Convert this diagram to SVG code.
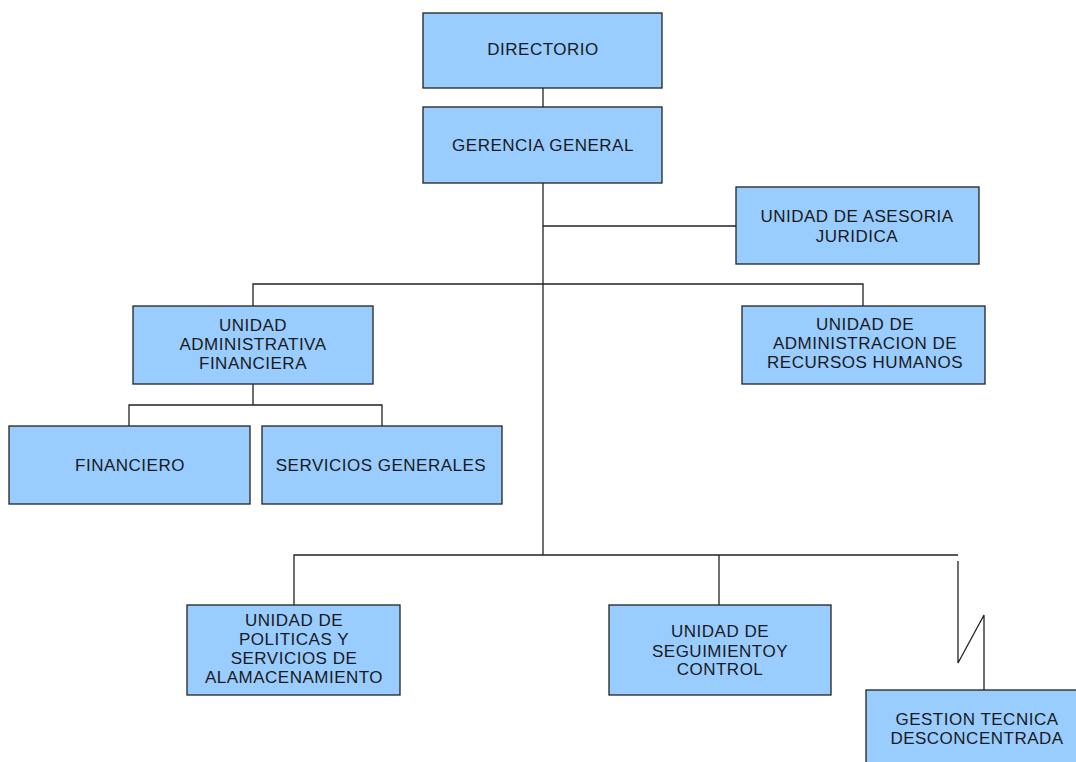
<svg xmlns="http://www.w3.org/2000/svg" width="1076" height="762" viewBox="0 0 1076 762">
<style>
.box{fill:#99ccff;stroke:#222;stroke-width:1.3}
.t{font-family:"Liberation Sans",Arial,sans-serif;font-size:17px;letter-spacing:0.5px;fill:#1a1a1a;text-anchor:middle}
.c{fill:none;stroke:#222;stroke-width:1.3}
</style>
<rect width="1076" height="762" fill="#fff"/>
<g id="connectors">
<path class="c" d="M543 88V107"/>
<path class="c" d="M543 183V555"/>
<path class="c" d="M543 226H736"/>
<path class="c" d="M253 306V284H863V306"/>
<path class="c" d="M253 384V405M129 426V405H382V426"/>
<path class="c" d="M294 605V555H958"/>
<path class="c" d="M719 555V605"/>
<path class="c" d="M958 561V663L984 615V690"/>
</g>
<g id="directorio"><rect class="box" x="423" y="13" width="239" height="75"/><text class="t" x="543" y="55">DIRECTORIO</text></g>
<g id="gerencia"><rect class="box" x="423" y="107" width="239" height="76"/><text class="t" x="543" y="151">GERENCIA GENERAL</text></g>
<g id="juridica"><rect class="box" x="736" y="187" width="243" height="77"/><text class="t" x="857" y="222">UNIDAD DE ASESORIA</text><text class="t" x="857" y="242">JURIDICA</text></g>
<g id="uaf"><rect class="box" x="133" y="306" width="240" height="78"/><text class="t" x="253" y="331">UNIDAD</text><text class="t" x="253" y="350">ADMINISTRATIVA</text><text class="t" x="253" y="369">FINANCIERA</text></g>
<g id="rrhh"><rect class="box" x="742" y="306" width="243" height="78"/><text class="t" x="865" y="330">UNIDAD DE</text><text class="t" x="865" y="349">ADMINISTRACION DE</text><text class="t" x="865" y="368">RECURSOS HUMANOS</text></g>
<g id="financiero"><rect class="box" x="9" y="426" width="241" height="78"/><text class="t" x="130" y="471">FINANCIERO</text></g>
<g id="servicios"><rect class="box" x="262" y="426" width="240" height="78"/><text class="t" x="381" y="471">SERVICIOS GENERALES</text></g>
<g id="upsa"><rect class="box" x="187" y="605" width="213" height="90"/><text class="t" x="294" y="626">UNIDAD DE</text><text class="t" x="294" y="645">POLITICAS Y</text><text class="t" x="294" y="664">SERVICIOS DE</text><text class="t" x="294" y="683">ALAMACENAMIENTO</text></g>
<g id="usc"><rect class="box" x="609" y="605" width="222" height="90"/><text class="t" x="720" y="637">UNIDAD DE</text><text class="t" x="720" y="657">SEGUIMIENTOY</text><text class="t" x="720" y="675">CONTROL</text></g>
<g id="gestion"><rect class="box" x="866" y="690" width="222" height="100"/><text class="t" x="977" y="725">GESTION TECNICA</text><text class="t" x="977" y="744">DESCONCENTRADA</text></g>
</svg>
